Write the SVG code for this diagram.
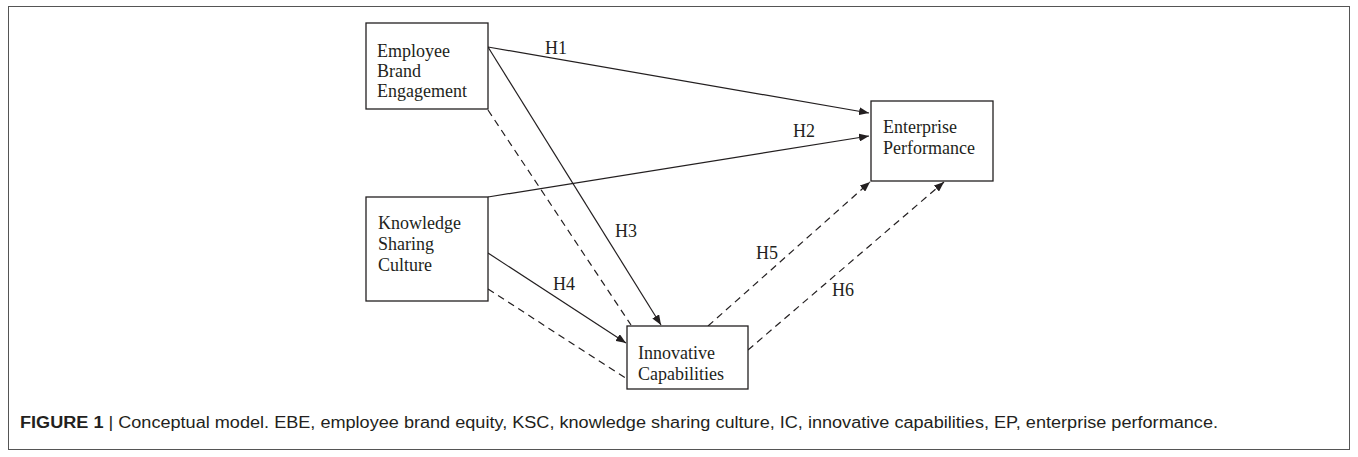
<svg xmlns="http://www.w3.org/2000/svg" width="1358" height="457" viewBox="0 0 1358 457">
<style>
.box{fill:#fff;stroke:#231f20;stroke-width:1.3}
.t{font-family:"Liberation Serif",serif;font-size:18px;fill:#231f20}
.ln{fill:none;stroke:#231f20;stroke-width:1.2}
.ds{stroke-dasharray:7,5}
.cap{font-family:"Liberation Sans",Arial,sans-serif;font-size:16px;fill:#231f20}
</style>
<defs>
<marker id="ah" viewBox="0 0 10 8" refX="10" refY="4" markerWidth="10" markerHeight="8" markerUnits="userSpaceOnUse" orient="auto">
<path d="M0,0 L10,4 L0,8 Z" fill="#231f20"/>
</marker>
</defs>
<rect x="8.5" y="6.5" width="1341" height="443" fill="#fff" stroke="#555" stroke-width="1"/>
<g id="connectors">
<line class="ln" x1="488" y1="47" x2="869" y2="113" marker-end="url(#ah)"/>
<line class="ln" x1="488" y1="197" x2="869" y2="136" marker-end="url(#ah)"/>
<line class="ln" x1="488" y1="47" x2="661" y2="325" marker-end="url(#ah)"/>
<line class="ln" x1="488" y1="253" x2="626" y2="343" marker-end="url(#ah)"/>
<line class="ln ds" x1="488" y1="110" x2="631" y2="325"/>
<line class="ln ds" x1="488" y1="289" x2="627" y2="379"/>
<line class="ln ds" x1="708" y1="326" x2="870" y2="182" marker-end="url(#ah)"/>
<line class="ln ds" x1="748" y1="350" x2="944" y2="182" marker-end="url(#ah)"/>
<text class="t" x="545" y="54">H1</text>
<text class="t" x="793" y="137">H2</text>
<text class="t" x="615" y="237">H3</text>
<text class="t" x="553" y="290">H4</text>
<text class="t" x="756" y="259">H5</text>
<text class="t" x="832" y="296">H6</text>
</g>
<g id="ebe">
<rect class="box" x="366" y="23" width="122" height="86"/>
<text class="t" x="377" y="57">Employee</text>
<text class="t" x="377" y="77">Brand</text>
<text class="t" x="377" y="97">Engagement</text>
</g>
<g id="ksc">
<rect class="box" x="366" y="197" width="122" height="104"/>
<text class="t" x="378" y="229">Knowledge</text>
<text class="t" x="378" y="250">Sharing</text>
<text class="t" x="378" y="271">Culture</text>
</g>
<g id="ic">
<rect class="box" x="627" y="326" width="121" height="63"/>
<text class="t" x="638" y="359">Innovative</text>
<text class="t" x="638" y="380">Capabilities</text>
</g>
<g id="ep">
<rect class="box" x="871" y="101" width="122" height="80"/>
<text class="t" x="883" y="133">Enterprise</text>
<text class="t" x="883" y="154">Performance</text>
</g>
<text class="cap" x="20" y="428" textLength="1198" lengthAdjust="spacingAndGlyphs"><tspan font-weight="bold">FIGURE 1</tspan> | Conceptual model. EBE, employee brand equity, KSC, knowledge sharing culture, IC, innovative capabilities, EP, enterprise performance.</text>
</svg>
